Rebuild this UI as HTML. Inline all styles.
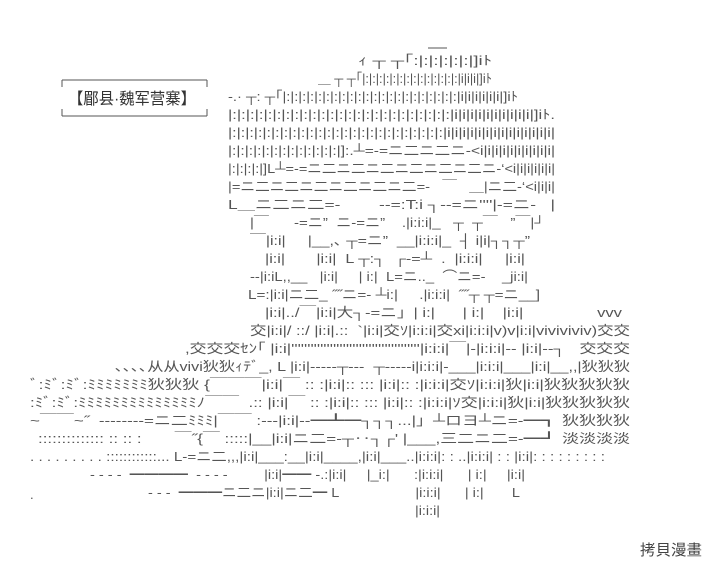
<!DOCTYPE html>
<html><head><meta charset="utf-8"><style>
html,body{margin:0;padding:0;background:#fff;}
svg{display:block}
text{font-family:"Liberation Sans","Noto Sans CJK JP",sans-serif;font-size:13px;fill:#555;white-space:pre}
</style></head><body>
<svg width="711" height="568" viewBox="0 0 711 568" xmlns="http://www.w3.org/2000/svg">
<g stroke="#555" stroke-width="1" fill="none">
<line x1="62" y1="80" x2="207" y2="80"/><line x1="62" y1="116" x2="207" y2="116"/>
<line x1="62" y1="80" x2="62" y2="87"/><line x1="207" y1="80" x2="207" y2="87"/>
<line x1="62" y1="109" x2="62" y2="116"/><line x1="207" y1="109" x2="207" y2="116"/>
<line x1="428" y1="48" x2="447" y2="48"/>
</g>
<text x="68" y="104" style="font-size:16px;fill:#333" textLength="128" lengthAdjust="spacingAndGlyphs">【郿县·魏军营寨】</text>
<g>
<text x="358" y="65" textLength="134" lengthAdjust="spacingAndGlyphs">ｨ ┬ ┬｢:|:|:|:|:|:|]iﾄ</text>
<text x="318" y="83" textLength="174" lengthAdjust="spacingAndGlyphs">＿ ┬ ┬｢|:|:|:|:|:|:|:|:|:|:|:|:|:|:|i|i|i|]iﾄ</text>
<text x="228" y="101" textLength="290" lengthAdjust="spacingAndGlyphs">‐.· ┬: ┬｢|:|:|:|:|:|:|:|:|:|:|:|:|:|:|:|:|:|:|:|:|:|:|i|i|i|i|i|i|]iﾄ</text>
<text x="228" y="119" textLength="327" lengthAdjust="spacingAndGlyphs">|:|:|:|:|:|:|:|:|:|:|:|:|:|:|:|:|:|:|:|:|:|:|:|:|:|i|i|i|i|i|i|i|i|i|i|]iﾄ.</text>
<text x="228" y="137" textLength="327" lengthAdjust="spacingAndGlyphs">|:|:|:|:|:|:|:|:|:|:|:|:|:|:|:|:|:|:|:|:|:|:|:|:|:|i|i|i|i|i|i|i|i|i|i|i|i|i|i|</text>
<text x="228" y="155" textLength="327" lengthAdjust="spacingAndGlyphs">|:|:|:|:|:|:|:|:|:|:|:|:|:|]:.┴=-=ニ二ニ二ニ-&lt;i|i|i|i|i|i|i|i|i|i|</text>
<text x="228" y="173" textLength="327" lengthAdjust="spacingAndGlyphs">|:|:|:|:|]L┴=-=ニ二ニ二ニ二ニ二ニ二ニ二ニ-‘&lt;i|i|i|i|i|i|</text>
<text x="228" y="191" textLength="327" lengthAdjust="spacingAndGlyphs">|=ニ二ニ二ニ二ニ二ニ二ニ二=-   ￣   ＿|ニ二-‘&lt;i|i|i|</text>
<text x="228" y="209" textLength="327" lengthAdjust="spacingAndGlyphs">L＿ニ二ニ二=-        --=:T:i ┐--=ニ''''|-=ニ-   |</text>
<text x="250" y="227" textLength="295" lengthAdjust="spacingAndGlyphs">|￣      -=ニ”  ニ-=ニ”    .|i:i:i|_   ┬  ┬￣   ”￣|┘</text>
<text x="250" y="245" textLength="280" lengthAdjust="spacingAndGlyphs">￣|i:i|     |__,､ ┬=ニ”  __|i:i:i|_  ┤ i|i|┐┐┬”</text>
<text x="265" y="263" textLength="260" lengthAdjust="spacingAndGlyphs">|i:i|       |i:i|  L ┬:┐  ┌-=┴  .  |i:i:i|     |i:i|</text>
<text x="250" y="281" textLength="278" lengthAdjust="spacingAndGlyphs">--|i:iL,,__   |i:i|     | i:|  L=ニ.._  ⌒ニ=-    _ji:i|</text>
<text x="248" y="299" textLength="292" lengthAdjust="spacingAndGlyphs">L=:|i:i|ニ二_ ˝˝ニ=- ┴i:|     .|i:i:i|  ˝˝┬ ┬=ニ__]</text>
<text x="265" y="317" textLength="357" lengthAdjust="spacingAndGlyphs">|i:i|../￣|i:i|大┐-=ニ」| i:|      | i:|    |i:i|                vvv</text>
<text x="250" y="335" textLength="380" lengthAdjust="spacingAndGlyphs">交|i:i|/ ::/ |i:i|.::  `|i:i|交ｿ|i:i:i|交xi|i:i:i|v)v|i:i|viviviviv)交交</text>
<text x="185" y="353" textLength="445" lengthAdjust="spacingAndGlyphs">,交交交ｾﾝ｢ |i:i|''''''''''''''''''''''''''''''''''''''''|i:i:i|￣|-|i:i:i|-- |i:i|--┐   交交交</text>
<text x="115" y="371" textLength="515" lengthAdjust="spacingAndGlyphs">､､､､从从vivi狄狄ｨﾃﾞ_, L |i:i|-----┬---  ┬-----i|i:i:i|-___|i:i:i|___|i:i|__,,|狄狄狄</text>
<text x="30" y="389" textLength="600" lengthAdjust="spacingAndGlyphs">ﾞ:ﾐﾞ:ﾐﾞ:ﾐﾐﾐﾐﾐﾐﾐ狄狄狄 {￣￣￣|i:i|￣ :: :|i:i|:: ::: |i:i|:: :|i:i:i|交ｿ|i:i:i|狄|i:i|狄狄狄狄狄</text>
<text x="30" y="407" textLength="600" lengthAdjust="spacingAndGlyphs">:ﾐﾞ:ﾐﾞ:ﾐﾐﾐﾐﾐﾐﾐﾐﾐﾐﾐﾐﾐﾐﾉ￣￣  .:: |i:i|￣ :: :|i:i|:: ::: |i:i|:: :|i:i:i|ｿ交|i:i:i|狄|i:i|狄狄狄狄狄</text>
<text x="30" y="425" textLength="600" lengthAdjust="spacingAndGlyphs">~￣￣~˝  --------=ニ二ﾐﾐﾐ|￣￣ :---|i:i|--━┻━┐┐┐...|」┴ロヨ┴ニ=-━┓ 狄狄狄狄</text>
<text x="38" y="443" textLength="592" lengthAdjust="spacingAndGlyphs">:::::::::::::: :: :: :       ￣˝{￣ :::::|__|i:i|ニ二=-┬‥┐┌' |___,三二ニ二=-━┛ 淡淡淡淡</text>
<text x="30" y="461" textLength="575" lengthAdjust="spacingAndGlyphs">. . . . . . . . . ::::::::::::... L-=ニ二,,,|i:i|___:__|i:i|____,|i:i|___..|i:i:i|: : ..|i:i:i| : : |i:i|: : : : : : : : :</text>
<text x="90" y="479" textLength="435" lengthAdjust="spacingAndGlyphs">- - - -  ━━━━  - - - -         |i:i|━━ -.:|i:i|     |_i:|      :|i:i:i|      | i:|     |i:i|</text>
<text x="148" y="497" textLength="372" lengthAdjust="spacingAndGlyphs">- - -  ━━━ニ二ニ|i:i|ニ二━ L                   |i:i:i|      | i:|       L</text>
<text x="415" y="515" textLength="25" lengthAdjust="spacingAndGlyphs">|i:i:i|</text>
<text x="30" y="499">.</text>
</g>
<text x="640" y="555" textLength="62" lengthAdjust="spacingAndGlyphs" style="font-size:15px;fill:#444">拷貝漫畫</text>
</svg>
</body></html>
